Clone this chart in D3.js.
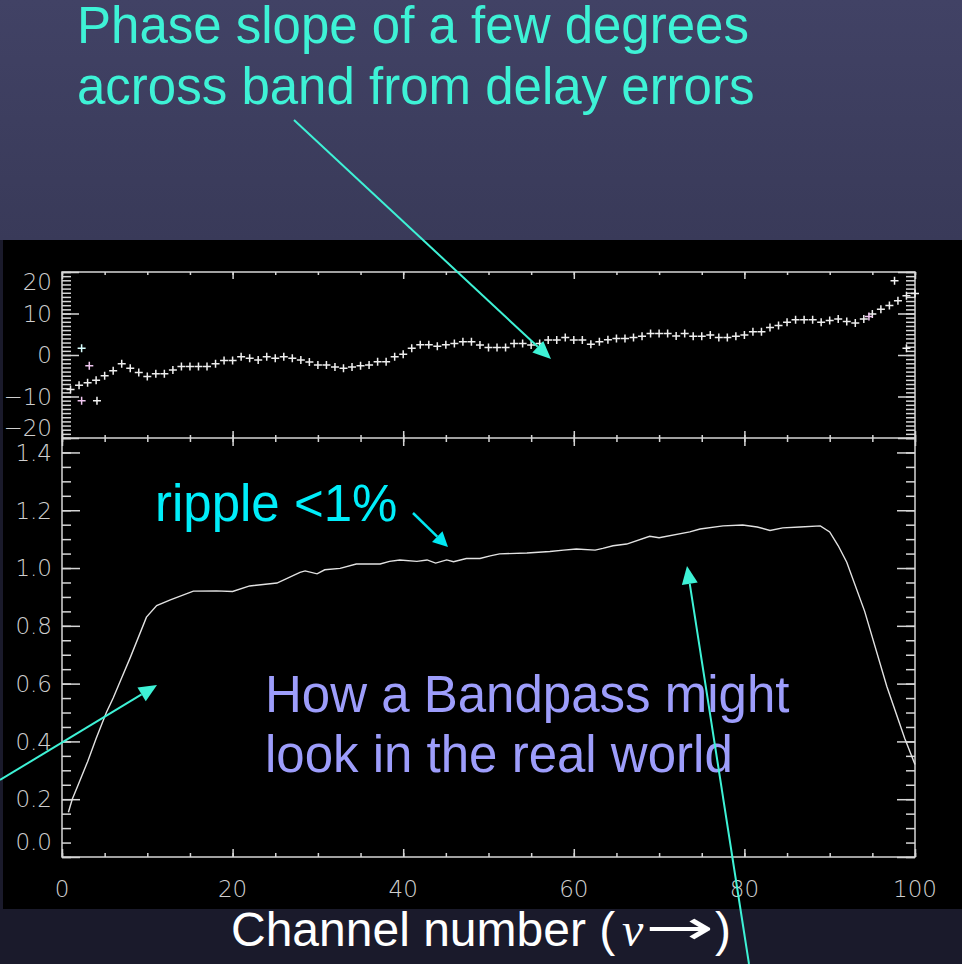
<!DOCTYPE html>
<html>
<head>
<meta charset="utf-8">
<script src="https://cdn.jsdelivr.net/npm/d3@7"></script>
<style>
  body { margin: 0; background: #1a1a2b; }
  svg { display: block; }
</style>
</head>
<body>
<div id="chart"></div>
<script>
// data
// =================================
var chanTicks = [0, 20, 40, 60, 80, 100];
var phaseTicks = [-20, -10, 0, 10, 20];
var ampTicks = [0, 0.2, 0.4, 0.6, 0.8, 1.0, 1.2, 1.4];

// phase (deg) for channels 1..100
var phaseDeg = [
  -8.3, -7.3, -6.7, -6.1, -5.0, -3.8, -2.1, -3.2, -4.2, -5.2,
  -4.5, -4.5, -3.6, -2.8, -2.8, -2.8, -2.8, -2.1, -1.3, -1.3,
  -0.4, -0.8, -1.2, -0.4, -0.8, -0.4, -0.8, -1.2, -1.7, -2.4,
  -2.4, -2.9, -3.2, -2.9, -2.6, -2.4, -1.6, -1.6, -0.4, 0.2,
  1.6, 2.5, 2.5, 2.1, 2.5, 2.8, 3.2, 3.2, 2.4, 1.8,
  1.8, 1.8, 2.8, 2.8, 2.4, 2.8, 3.6, 3.6, 4.2, 3.6,
  3.6, 2.6, 3.2, 3.7, 4.0, 4.0, 4.2, 4.5, 5.2, 5.2,
  5.2, 4.6, 5.2, 4.5, 4.5, 4.8, 4.2, 4.2, 4.5, 4.8,
  5.6, 5.6, 6.6, 7.1, 7.9, 8.5, 8.5, 8.5, 7.9, 8.3,
  8.7, 8.1, 7.7, 8.7, 9.9, 11.0, 11.9, 13.1, 14.3, 14.8
];

// flagged / odd phase points
var flagChan = [2.3, 3.2, 2.3, 4.1, 94.6, 97.6, 99.0];
var flagPhase = [1.6, -2.6, -11, -11, 9.3, 17.9, 1.6];

// bandpass amplitude
var bandChan = [0.75, 1.2, 1.9, 3, 4, 5.2, 6, 7, 8, 9.9, 11.1, 12.7, 15.4, 18.1, 20, 22,
  25.2, 27.9, 28.5, 29.9, 30.8, 32.6, 34.5, 37.3, 38.4, 39.6, 41.6, 42.8, 43.8, 45.1,
  45.9, 47.4, 49, 50.2, 51.3, 54.5, 57.2, 58.8, 60.3, 62.5, 63.4, 64.6, 66.2, 68.9,
  70, 73.6, 74.8, 77.5, 79.8, 81.5, 83, 84.5, 86.5, 88.9, 90, 91, 92, 94.1, 96.7, 98.8, 100];
var bandAmp = [0.155, 0.20, 0.25, 0.33, 0.41, 0.50, 0.55, 0.62, 0.69, 0.83, 0.87, 0.89, 0.92, 0.921, 0.919, 0.938,
  0.948, 0.985, 0.99, 0.98, 0.994, 0.999, 1.014, 1.014, 1.023, 1.028, 1.023, 1.028, 1.017, 1.028,
  1.022, 1.033, 1.033, 1.042, 1.049, 1.052, 1.057, 1.062, 1.066, 1.062, 1.068, 1.077, 1.083, 1.11,
  1.105, 1.125, 1.135, 1.146, 1.149, 1.142, 1.13, 1.139, 1.142, 1.146, 1.125, 1.077, 1.02, 0.85, 0.59, 0.41, 0.32];

// Step 1: Set up the page
//= ================================
var svgWidth = 962;
var svgHeight = 964;
var axisColor = "#d6d6d6";
var turquoise = "#3ef2d6";

var svg = d3.select("#chart")
  .append("svg")
  .attr("width", svgWidth)
  .attr("height", svgHeight);

var defs = svg.append("defs");
var grad = defs.append("linearGradient")
  .attr("id", "topGrad")
  .attr("x1", 0).attr("y1", 0).attr("x2", 0).attr("y2", 1);
grad.append("stop").attr("offset", "0%").attr("stop-color", "#414265");
grad.append("stop").attr("offset", "100%").attr("stop-color", "#393a59");

// backgrounds
svg.append("rect").attr("x", 0).attr("y", 0).attr("width", svgWidth).attr("height", 240)
  .attr("fill", "url(#topGrad)");
svg.append("rect").attr("x", 0).attr("y", 240).attr("width", svgWidth).attr("height", svgHeight - 240)
  .attr("fill", "#1a1a2b");
svg.append("rect").attr("x", 3).attr("y", 240).attr("width", svgWidth - 3).attr("height", 669)
  .attr("fill", "#000");

// Step 2: scales
//= ================================
var plotLeft = 62, plotRight = 915;
var topTop = 272, topBottom = 438;
var botTop = 438, botBottom = 857;

var xScale = d3.scaleLinear().domain([0, 100]).range([plotLeft, plotRight]);
var yPhase = d3.scaleLinear().domain([-20, 20]).range([topBottom, topTop]);
var yAmp = d3.scaleLinear().domain([0, 1.45]).range([botBottom, botTop]);

var chanMinor = d3.range(0, 101, 5);
var phaseMinor = d3.range(-20, 21, 1);
var ampMinor = d3.range(0, 1.46, 0.05);

// helper to draw a tick-only axis (no domain line)
function tickAxis(axisFn, scale, values, size, tx, ty) {
  var g = svg.append("g")
    .attr("transform", "translate(" + tx + "," + ty + ")")
    .call(axisFn(scale).tickValues(values).tickSize(size).tickSizeOuter(0).tickFormat(""));
  g.select(".domain").remove();
  g.selectAll("line").attr("stroke", axisColor).attr("stroke-width", 1.5);
  return g;
}

// top panel ticks
tickAxis(d3.axisRight, yPhase, phaseMinor, 9, plotLeft, 0);
tickAxis(d3.axisRight, yPhase, phaseTicks, 17, plotLeft, 0);
tickAxis(d3.axisLeft, yPhase, phaseMinor, 9, plotRight, 0);
tickAxis(d3.axisLeft, yPhase, phaseTicks, 17, plotRight, 0);
tickAxis(d3.axisBottom, xScale, chanMinor, 3, 0, topTop);
tickAxis(d3.axisBottom, xScale, chanTicks, 7, 0, topTop);
tickAxis(d3.axisTop, xScale, chanMinor, 3, 0, topBottom);
tickAxis(d3.axisTop, xScale, chanTicks, 7, 0, topBottom);

// bottom panel ticks
tickAxis(d3.axisRight, yAmp, ampMinor, 9, plotLeft, 0);
tickAxis(d3.axisRight, yAmp, ampTicks, 18, plotLeft, 0);
tickAxis(d3.axisLeft, yAmp, ampMinor, 9, plotRight, 0);
tickAxis(d3.axisLeft, yAmp, ampTicks, 18, plotRight, 0);
tickAxis(d3.axisBottom, xScale, chanMinor, 4, 0, botTop);
tickAxis(d3.axisBottom, xScale, chanTicks, 8, 0, botTop);
tickAxis(d3.axisTop, xScale, chanMinor, 4, 0, botBottom);
tickAxis(d3.axisTop, xScale, chanTicks, 8, 0, botBottom);

// frames
svg.append("rect").attr("x", plotLeft).attr("y", topTop)
  .attr("width", plotRight - plotLeft).attr("height", botBottom - topTop)
  .attr("fill", "none").attr("stroke", axisColor).attr("stroke-width", 1.5);
svg.append("line").attr("x1", plotLeft).attr("x2", plotRight)
  .attr("y1", topBottom).attr("y2", topBottom)
  .attr("stroke", axisColor).attr("stroke-width", 1.5);

// tick labels (thin, IDL-ish)
var labelStyle = function(sel) {
  sel.attr("fill", "#cfcfcf")
    .attr("font-family", "'DejaVu Sans', sans-serif")
    .attr("font-weight", 200)
    .attr("font-size", 23);
};
var fmtPhase = d3.format("d");
var fmtAmp = d3.format(".1f");

svg.append("g").selectAll("text")
  .data(phaseTicks).enter().append("text")
  .call(labelStyle)
  .attr("x", 52)
  .attr("y", function(d) { return Math.max(topTop + 10, Math.min(topBottom - 10, yPhase(d))); })
  .attr("dy", "0.36em")
  .attr("text-anchor", "end")
  .text(function(d) { return fmtPhase(d); });

svg.append("g").selectAll("text")
  .data(ampTicks).enter().append("text")
  .call(labelStyle)
  .attr("x", 52)
  .attr("y", function(d) { return Math.min(botBottom - 15, yAmp(d)); })
  .attr("dy", "0.36em")
  .attr("text-anchor", "end")
  .text(function(d) { return fmtAmp(d); });

svg.append("g").selectAll("text")
  .data(chanTicks).enter().append("text")
  .call(labelStyle)
  .attr("x", function(d) { return xScale(d); })
  .attr("y", 889)
  .attr("dy", "0.36em")
  .attr("text-anchor", "middle")
  .text(function(d) { return d; });

// Step 3: data marks
//= ================================
function cross(g, cx, cy, color) {
  g.append("path")
    .attr("d", "M" + (cx - 4) + "," + cy + "h8M" + cx + "," + (cy - 4) + "v8")
    .attr("stroke", color)
    .attr("stroke-width", 1.5)
    .attr("fill", "none");
}

var phaseGroup = svg.append("g");
phaseDeg.forEach(function(v, i) {
  cross(phaseGroup, xScale(i + 1), yPhase(v), "#eeeeee");
});
var flagTint = ["#d8ffff", "#f2c8f2", "#f2c8f2", "#f4f4f4", "#f2c8f2", "#f4f4f4", "#f4f4f4"];
flagChan.forEach(function(c, i) {
  cross(phaseGroup, xScale(c), yPhase(flagPhase[i]), flagTint[i]);
});

var bandLine = d3.line()
  .x(function(d) { return xScale(d[0]); })
  .y(function(d) { return yAmp(d[1]); });

svg.append("path")
  .datum(d3.zip(bandChan, bandAmp))
  .attr("d", bandLine)
  .attr("fill", "none")
  .attr("stroke", "#e2e2e2")
  .attr("stroke-width", 1.4);

// Step 4: annotations
//= ================================
function arrow(x1, y1, x2, y2, color, headLen, headHalf, width) {
  var ang = Math.atan2(y2 - y1, x2 - x1);
  var bx = x2 - headLen * Math.cos(ang), by = y2 - headLen * Math.sin(ang);
  svg.append("line")
    .attr("x1", x1).attr("y1", y1).attr("x2", bx).attr("y2", by)
    .attr("stroke", color).attr("stroke-width", width);
  var px = -Math.sin(ang) * headHalf, py = Math.cos(ang) * headHalf;
  svg.append("path")
    .attr("d", "M" + x2 + "," + y2 + "L" + (bx + px) + "," + (by + py) + "L" + (bx - px) + "," + (by - py) + "Z")
    .attr("fill", color);
}

var textFont = "'Liberation Sans', Arial, Helvetica, sans-serif";

svg.append("text")
  .attr("x", 77).attr("y", 43)
  .attr("font-family", textFont).attr("font-size", 51).attr("fill", turquoise)
  .text("Phase slope of a few degrees");
svg.append("text")
  .attr("x", 77).attr("y", 104)
  .attr("font-family", textFont).attr("font-size", 51).attr("fill", turquoise)
  .text("across band from delay errors");

svg.append("text")
  .attr("x", 155).attr("y", 521)
  .attr("font-family", textFont).attr("font-size", 51).attr("fill", "#00eefa")
  .text("ripple <1%");

svg.append("text")
  .attr("x", 265).attr("y", 712)
  .attr("font-family", textFont).attr("font-size", 51).attr("fill", "#9d9dfb")
  .text("How a Bandpass might");
svg.append("text")
  .attr("x", 265).attr("y", 772)
  .attr("font-family", textFont).attr("font-size", 51).attr("fill", "#9d9dfb")
  .text("look in the real world");

// axis title, pieces placed as in the picture
var chanY = 946;
svg.append("text")
  .attr("x", 231).attr("y", chanY)
  .attr("font-family", textFont).attr("font-size", 48).attr("fill", "#ffffff")
  .text("Channel number (");
svg.append("text")
  .attr("x", 622).attr("y", chanY)
  .attr("font-family", "'Liberation Serif', 'Times New Roman', serif")
  .attr("font-style", "italic").attr("font-size", 48).attr("fill", "#ffffff")
  .text("\u03bd");
svg.append("text")
  .attr("x", 645).attr("y", chanY - 2)
  .attr("font-family", "'DejaVu Sans', sans-serif")
  .attr("font-size", 48).attr("fill", "#ffffff")
  .attr("textLength", 69).attr("lengthAdjust", "spacingAndGlyphs")
  .text("\u2192");
svg.append("text")
  .attr("x", 715).attr("y", chanY)
  .attr("font-family", textFont).attr("font-size", 48).attr("fill", "#ffffff")
  .text(")");

arrow(294, 120, 551, 359, turquoise, 18, 8, 2);
arrow(413, 513, 448, 547, "#00e8f2", 15, 7.5, 2.5);
arrow(0, 780, 157, 685, turquoise, 18, 8, 2);
arrow(749, 964, 687, 566, turquoise, 18, 8, 2);
</script>
</body>
</html>
